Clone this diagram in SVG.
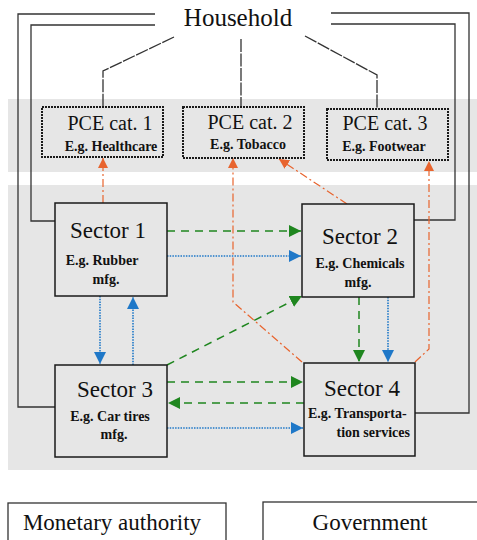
<svg xmlns="http://www.w3.org/2000/svg" width="477" height="540" viewBox="0 0 477 540">
<defs>
<style>
.big{font-size:23px}
.pce{font-size:20px}
.sub{font-size:14px;font-weight:bold}
.box{fill:#e6e6e6;stroke:#1a1a1a;stroke-width:1.5}
.pbox{fill:#e6e6e6;stroke:#1a1a1a;stroke-width:2;stroke-dasharray:2 1}
.hl{fill:none;stroke:#333;stroke-width:1.3}
.hd{fill:none;stroke:#333;stroke-width:1.3;stroke-dasharray:13 1.5}
.g{fill:none;stroke:#1f861f;stroke-width:1.5;stroke-dasharray:8 6}
.b{fill:none;stroke:#1f78c8;stroke-width:1.6;stroke-dasharray:1.5 1.2}
.o{fill:none;stroke:#e8642e;stroke-width:1.2;stroke-dasharray:8 3 2 3}
</style>
<marker id="ag" viewBox="0 0 10 10" refX="10" refY="5" markerWidth="12" markerHeight="12" markerUnits="userSpaceOnUse" orient="auto"><path d="M0,0L10,5L0,10z" fill="#1f861f"/></marker>
<marker id="ab" viewBox="0 0 10 10" refX="10" refY="5" markerWidth="12" markerHeight="12" markerUnits="userSpaceOnUse" orient="auto"><path d="M0,0L10,5L0,10z" fill="#1f78c8"/></marker>
<marker id="ao" viewBox="0 0 10 10" refX="10" refY="5" markerWidth="10" markerHeight="10" markerUnits="userSpaceOnUse" orient="auto"><path d="M0,0L10,5L0,10z" fill="#e8642e"/></marker>
</defs>
<rect width="477" height="540" fill="#fff"/>
<rect x="8" y="99" width="469" height="73" fill="#e6e6e6"/>
<rect x="8" y="185" width="469" height="285" fill="#e6e6e6"/>

<g id="connectors">
<polyline class="hl" points="155,14 18,14 18,407 55,407"/>
<polyline class="hl" points="155,25 31,25 31,221 55,221"/>
<polyline class="hl" points="331,13 469,13 469,413 415,413"/>
<polyline class="hl" points="331,24 455,24 455,220 414,220"/>
<polyline class="hd" points="174,37 103,71 103,107"/>
<line class="hd" x1="241" y1="39" x2="241" y2="107"/>
<polyline class="hd" points="305,36 377,75 377,109"/>

<line class="g" x1="167" y1="231" x2="301" y2="231" marker-end="url(#ag)"/>
<line class="b" x1="167" y1="256" x2="301" y2="256" marker-end="url(#ab)"/>
<line class="b" x1="100" y1="296" x2="100" y2="364" marker-end="url(#ab)"/>
<line class="b" x1="133" y1="365" x2="133" y2="297" marker-end="url(#ab)"/>
<line class="g" x1="167" y1="365" x2="302" y2="296" marker-end="url(#ag)"/>
<line class="o" x1="103" y1="203" x2="103" y2="158" marker-end="url(#ao)"/>
<polyline class="o" points="302,362 233,302 233,158" marker-end="url(#ao)"/>
<line class="o" x1="347" y1="204" x2="279" y2="159" marker-end="url(#ao)"/>
<polyline class="o" points="415,362 429,349 429,161" marker-end="url(#ao)"/>
<line class="g" x1="359" y1="297" x2="359" y2="362" marker-end="url(#ag)"/>
<line class="b" x1="388" y1="297" x2="388" y2="362" marker-end="url(#ab)"/>
<line class="g" x1="167" y1="382" x2="303" y2="382" marker-end="url(#ag)"/>
<line class="g" x1="304" y1="403" x2="168" y2="403" marker-end="url(#ag)"/>
<line class="b" x1="167" y1="428" x2="303" y2="428" marker-end="url(#ab)"/>
</g>

<g font-family="Liberation Serif, serif" fill="#111">
<g id="household">
<text x="238" y="26" font-size="25" text-anchor="middle">Household</text>
</g>

<g id="pce1">
<rect class="pbox" x="42" y="107" width="121" height="50"/>
<text class="pce" x="110" y="130" text-anchor="middle">PCE cat. 1</text>
<text class="sub" x="111" y="151" text-anchor="middle">E.g. Healthcare</text>
</g>
<g id="pce2">
<rect class="pbox" x="183" y="107" width="121" height="51"/>
<text class="pce" x="250" y="129" text-anchor="middle">PCE cat. 2</text>
<text class="sub" x="248" y="149" text-anchor="middle">E.g. Tobacco</text>
</g>
<g id="pce3">
<rect class="pbox" x="327" y="109" width="121" height="51"/>
<text class="pce" x="385" y="130" text-anchor="middle">PCE cat. 3</text>
<text class="sub" x="384" y="151" text-anchor="middle">E.g. Footwear</text>
</g>

<g id="sector1">
<rect class="box" x="55" y="203" width="112" height="93"/>
<text class="big" x="108" y="238" text-anchor="middle">Sector 1</text>
<text class="sub" x="102" y="265" text-anchor="middle">E.g. Rubber</text>
<text class="sub" x="106" y="284" text-anchor="middle">mfg.</text>
</g>
<g id="sector2">
<rect class="box" x="302" y="204" width="112" height="93"/>
<text class="big" x="360" y="244" text-anchor="middle">Sector 2</text>
<text class="sub" x="360" y="268" text-anchor="middle">E.g. Chemicals</text>
<text class="sub" x="358" y="287" text-anchor="middle">mfg.</text>
</g>
<g id="sector3">
<rect class="box" x="55" y="365" width="112" height="92"/>
<text class="big" x="115" y="397" text-anchor="middle">Sector 3</text>
<text class="sub" x="110" y="421" text-anchor="middle">E.g. Car tires</text>
<text class="sub" x="114" y="439" text-anchor="middle">mfg.</text>
</g>
<g id="sector4">
<rect class="box" x="304" y="363" width="111" height="93"/>
<text class="big" x="362" y="396" text-anchor="middle">Sector 4</text>
<text class="sub" x="308" y="418">E.g. Transporta-</text>
<text class="sub" x="410" y="437" text-anchor="end">tion services</text>
</g>

<g id="monetary">
<rect x="8" y="503" width="218" height="45" fill="#fff" stroke="#333" stroke-width="1.3"/>
<text x="112" y="530" font-size="23" text-anchor="middle">Monetary authority</text>
</g>
<g id="government">
<rect x="263" y="502" width="220" height="46" fill="#fff" stroke="#333" stroke-width="1.3"/>
<text x="370" y="530" font-size="23" text-anchor="middle">Government</text>
</g>
</g>
</svg>
